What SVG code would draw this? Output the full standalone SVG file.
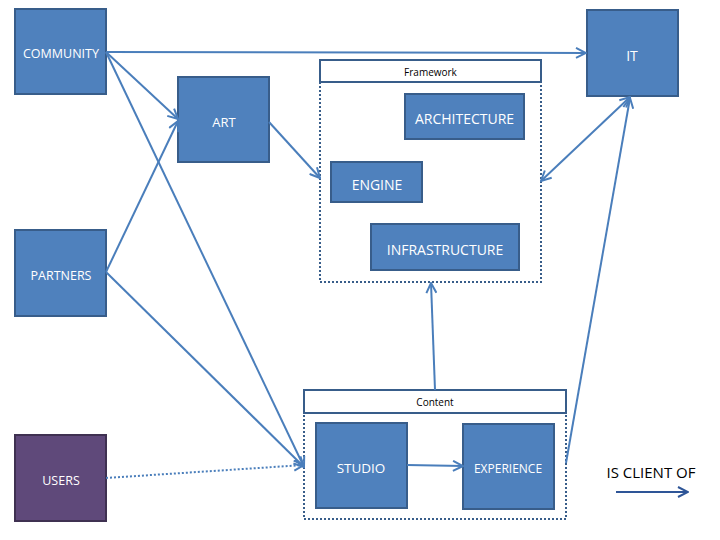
<svg xmlns="http://www.w3.org/2000/svg" width="720" height="540" viewBox="0 0 720 540">
<style>
.n{fill:#4f81bd;stroke:#385d8a;stroke-width:2}
.u{fill:#5f497a;stroke:#3f3151;stroke-width:2}
.t{font-family:"Open Sans","Liberation Sans",sans-serif;font-size:12.5px;fill:#fff;text-anchor:middle;dominant-baseline:central}
.f{font-size:14px}
.h{fill:#fff;stroke:#385d8a;stroke-width:2}
.ht{font-family:"Open Sans","Liberation Sans",sans-serif;font-size:10px;fill:#000;text-anchor:middle;dominant-baseline:central}
.d{fill:none;stroke:#385d8a;stroke-width:2;stroke-dasharray:2 2}
.c{fill:none;stroke:#4a7ebb;stroke-width:2;marker-end:url(#a)}
</style>
<defs>
<marker id="a" viewBox="0 0 12 12" refX="11" refY="6" markerWidth="6" markerHeight="6" markerUnits="strokeWidth" orient="auto-start-reverse">
<path d="M1,1 L11,6 L1,11" fill="none" stroke="#4a7ebb" stroke-width="2"/>
</marker>
<marker id="b" viewBox="0 0 12 12" refX="11" refY="6" markerWidth="6" markerHeight="6" markerUnits="strokeWidth" orient="auto">
<path d="M1,1 L11,6 L1,11" fill="none" stroke="#2e5597" stroke-width="2"/>
</marker>
</defs>
<g id="framework">
<rect class="h" x="320" y="60" width="221" height="22"/>
<text class="ht" x="430.5" y="72">Framework</text>
<rect class="d" x="320" y="82" width="221" height="200"/>
</g>
<g id="content">
<rect class="h" x="304" y="390" width="262" height="23"/>
<text class="ht" x="435" y="402">Content</text>
<rect class="d" x="304" y="413" width="262" height="106"/>
</g>
<g id="community"><rect class="n" x="15" y="9" width="91" height="85"/><text class="t" x="61" y="53">COMMUNITY</text></g>
<g id="art"><rect class="n" x="178" y="77" width="91" height="85"/><text class="t" x="224" y="122" style="font-size:13px">ART</text></g>
<g id="it"><rect class="n" x="587" y="10" width="91" height="86"/><text class="t" x="632" y="55" style="font-size:14px">IT</text></g>
<g id="partners"><rect class="n" x="15" y="230" width="91" height="86"/><text class="t" x="61" y="275">PARTNERS</text></g>
<g id="users"><rect class="u" x="15" y="435" width="91" height="86"/><text class="t" x="61" y="480">USERS</text></g>
<g id="architecture"><rect class="n" x="405" y="94" width="119" height="45"/><text class="t f" x="464.5" y="118">ARCHITECTURE</text></g>
<g id="engine"><rect class="n" x="331" y="162" width="91" height="40"/><text class="t f" x="377" y="184">ENGINE</text></g>
<g id="infrastructure"><rect class="n" x="371" y="224" width="148" height="46"/><text class="t f" x="445" y="249">INFRASTRUCTURE</text></g>
<g id="studio"><rect class="n" x="316" y="423" width="91" height="85"/><text class="t" x="361" y="468" style="font-size:13.5px">STUDIO</text></g>
<g id="experience"><rect class="n" x="463" y="424" width="91" height="85"/><text class="t" x="508" y="468" style="font-size:12px">EXPERIENCE</text></g>
<g id="connectors">
<line class="c" x1="106" y1="52" x2="586" y2="53"/>
<line class="c" x1="106" y1="52" x2="178" y2="119"/>
<line class="c" x1="106" y1="52" x2="304" y2="467"/>
<line class="c" x1="106" y1="272" x2="178" y2="121"/>
<line class="c" x1="106" y1="272" x2="304" y2="467"/>
<line class="c" x1="106" y1="478" x2="304" y2="465" style="stroke-dasharray:2 2"/>
<line class="c" x1="269" y1="122" x2="320" y2="178"/>
<line class="c" x1="630" y1="97" x2="541" y2="181" style="marker-start:url(#a)"/>
<line class="c" x1="566" y1="463" x2="630" y2="98"/>
<line class="c" x1="435" y1="390" x2="431" y2="283"/>
<line class="c" x1="407" y1="465" x2="463" y2="466"/>
</g>
<g id="legend">
<text x="651" y="472" style="font-family:'Open Sans','Liberation Sans',sans-serif;font-size:15px;fill:#000;text-anchor:middle;dominant-baseline:central">IS CLIENT OF</text>
<line x1="616" y1="492" x2="688" y2="492" style="stroke:#2e5597;stroke-width:2;marker-end:url(#b)"/>
</g>
</svg>
